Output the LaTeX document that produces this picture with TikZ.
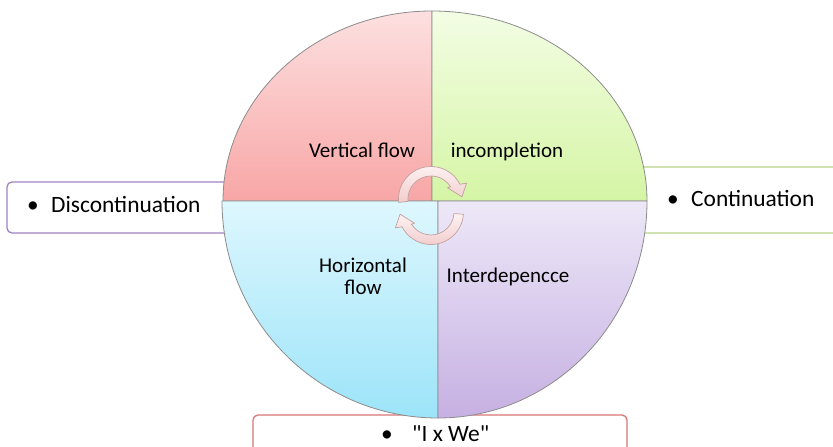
\documentclass[tikz,border=0pt]{standalone}
\usepackage{fontspec}
\setmainfont{Carlito}[Ligatures=TeXOff]
\definecolor{boxL}{RGB}{160,130,195}
\definecolor{boxR}{RGB}{180,212,135}
\definecolor{boxB}{RGB}{218,118,118}
\definecolor{qline}{RGB}{140,140,140}
\definecolor{tlTop}{RGB}{253,224,224}
\definecolor{tlBot}{RGB}{248,166,166}
\definecolor{trTop}{RGB}{243,253,228}
\definecolor{trBot}{RGB}{213,245,165}
\definecolor{blTop}{RGB}{222,247,254}
\definecolor{blBot}{RGB}{156,228,249}
\definecolor{brTop}{RGB}{237,232,248}
\definecolor{brBot}{RGB}{198,176,226}
\definecolor{arrTop}{RGB}{253,242,242}
\definecolor{arrBot}{RGB}{242,205,205}
\definecolor{arrLine}{RGB}{195,160,160}
\begin{document}
\begin{tikzpicture}[x=1pt,y=1pt,
  outertext/.style={font=\fontsize{23.4}{28}\selectfont, anchor=base west, inner sep=0pt},
  innertext/.style={font=\fontsize{21}{25}\selectfont, anchor=base, inner sep=0pt},
  sidebox/.style={fill=white, line width=1.3pt, rounded corners=5pt},
  quad/.style={draw=qline, line width=0.8pt},
  cyc/.style={draw=arrLine, line width=0.7pt, top color=arrTop, bottom color=arrBot},
]
\useasboundingbox (0,0) rectangle (833,447);
\clip (0,0) rectangle (833,447);
\fill[white] (0,0) rectangle (833,447);
% outer boxes
\draw[sidebox, draw=boxL] (7,214) rectangle (320,265);
\draw[sidebox, draw=boxR] (560,214) rectangle (850,280);
\draw[sidebox, draw=boxB] (253,-20) rectangle (627,32);
% quadrants
\draw[quad, top color=tlTop, bottom color=tlBot] (432,246) -- (223,246) arc[start angle=180, end angle=90, x radius=209, y radius=190] -- cycle;
\draw[quad, top color=trTop, bottom color=trBot] (432,246) -- (432,436) arc[start angle=90, end angle=0, x radius=215, y radius=190] -- cycle;
\draw[quad, top color=blTop, bottom color=blBot] (438,246) -- (222,246) arc[start angle=180, end angle=270, x radius=216, y radius=217] -- cycle;
\draw[quad, top color=brTop, bottom color=brBot] (438,246) -- (438,29) arc[start angle=270, end angle=360, x radius=209, y radius=217] -- cycle;
% cycle arrows
\begin{scope}[shift={(431,248)}]
\draw[cyc] (186:32.5) arc[start angle=186, end angle=27, radius=32.5] -- (24:39) -- (4:31) -- (34:20) -- (32:23) arc[start angle=32, end angle=186, radius=23] -- cycle;
\end{scope}
\begin{scope}[shift={(431,235)}]
\draw[cyc] (-4:32.5) arc[start angle=-4, end angle=-153, radius=32.5] -- (-156:39) -- (-176:31) -- (-146:20) -- (-148:23) arc[start angle=-148, end angle=-4, radius=23] -- cycle;
\end{scope}
% quadrant texts
\node[innertext] (vf) at (362,289) {Vertical flow};
\node[innertext] (inc) at (507,289) {incompletion};
\node[innertext] (hz1) at (363,174) {Horizontal};
\node[innertext] (hz2) at (363,152) {flow};
\node[innertext] (itd) at (508,164) {Interdepencce};
% box texts
\node[outertext] (bl) at (27,234) {•};
\node[outertext] (tl) at (51,234) {Discontinuation};
\node[outertext] (br) at (667,240) {•};
\node[outertext] (tr) at (691,240) {Continuation};
\node[outertext] (bb) at (381,5) {•};
\node[outertext] (tb) at (412,5) {"I x We"};
\end{tikzpicture}
\end{document}
